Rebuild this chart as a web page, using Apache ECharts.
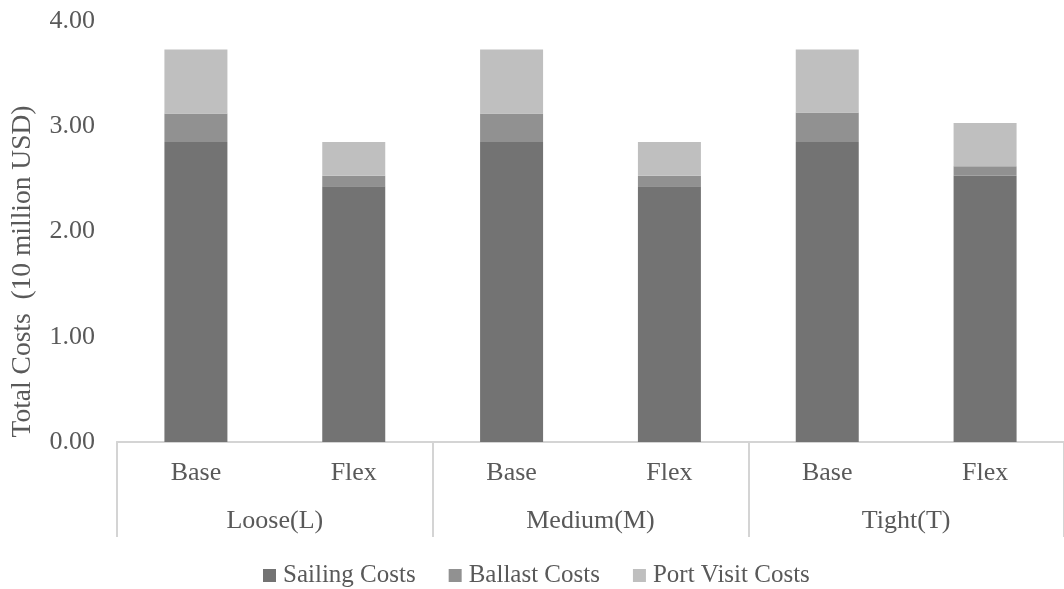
<!DOCTYPE html>
<html>
<head>
<meta charset="utf-8">
<script src="https://cdn.jsdelivr.net/npm/echarts@6/dist/echarts.min.js"></script>
<style>
  html, body { margin: 0; padding: 0; background: #fff; }
  #chart { width: 1064px; height: 589px; }
</style>
</head>
<body>
<div id="chart"></div>
<script>
// Scenario groups and the two variants inside each group
const groups = ['Loose(L)', 'Medium(M)', 'Tight(T)'];
const variants = ['Base', 'Flex', 'Base', 'Flex', 'Base', 'Flex'];

// Cost components, in units of 10 million USD
const sailingCosts = [2.85, 2.43, 2.85, 2.43, 2.85, 2.53];
const ballastCosts = [0.27, 0.10, 0.27, 0.10, 0.28, 0.09];
const portVisitCosts = [0.61, 0.32, 0.61, 0.32, 0.60, 0.41];

const yTicks = { min: 0, max: 4, interval: 1 };

const FONT = "'Liberation Serif', 'Times New Roman', serif";
const TEXT = '#595959';
const LINE = '#d4d4d4';

const chart = echarts.init(document.getElementById('chart'), null, { renderer: 'canvas' });

chart.setOption({
  animation: false,
  backgroundColor: '#ffffff',
  textStyle: { fontFamily: FONT },
  grid: { left: 117, top: 21, width: 951, bottom: 147, containLabel: false },
  legend: {
    data: ['Sailing Costs', 'Ballast Costs', 'Port Visit Costs'],
    left: 258,
    top: 558,
    icon: 'rect',
    itemWidth: 13,
    itemHeight: 13,
    itemGap: 33,
    textStyle: { fontFamily: FONT, fontSize: 25, color: TEXT, padding: [0, 0, 0, 2] }
  },
  xAxis: [
    {
      type: 'category',
      data: variants,
      position: 'bottom',
      axisLine: { show: true, lineStyle: { color: LINE, width: 2 } },
      axisTick: { show: false },
      axisLabel: { fontFamily: FONT, fontSize: 26, color: TEXT, margin: 18, interval: 0 }
    },
    {
      type: 'category',
      data: groups,
      position: 'bottom',
      axisLine: { show: true, lineStyle: { color: LINE, width: 2 } },
      axisTick: { show: true, length: 95, interval: 0, lineStyle: { color: LINE, width: 2 } },
      axisLabel: { fontFamily: FONT, fontSize: 26, color: TEXT, margin: 66, interval: 0 },
      splitLine: { show: false }
    }
  ],
  yAxis: {
    type: 'value',
    min: yTicks.min,
    max: yTicks.max,
    interval: yTicks.interval,
    name: 'Total Costs  (10 million USD)',
    nameLocation: 'middle',
    nameGap: 80,
    nameTextStyle: { fontFamily: FONT, fontSize: 27.5, color: TEXT, padding: [0, 80, 0, 0] },
    axisLine: { show: false },
    axisTick: { show: false },
    splitLine: { show: false },
    axisLabel: {
      fontFamily: FONT, fontSize: 26, color: TEXT, margin: 22,
      formatter: v => v.toFixed(2)
    }
  },
  series: [
    {
      name: 'Sailing Costs', type: 'bar', stack: 'cost', xAxisIndex: 0,
      barWidth: 63, data: sailingCosts,
      itemStyle: { color: '#737373' }
    },
    {
      name: 'Ballast Costs', type: 'bar', stack: 'cost', xAxisIndex: 0,
      barWidth: 63, data: ballastCosts,
      itemStyle: { color: '#919191' }
    },
    {
      name: 'Port Visit Costs', type: 'bar', stack: 'cost', xAxisIndex: 0,
      barWidth: 63, data: portVisitCosts,
      itemStyle: { color: '#bfbfbf' }
    }
  ]
});
</script>
</body>
</html>
